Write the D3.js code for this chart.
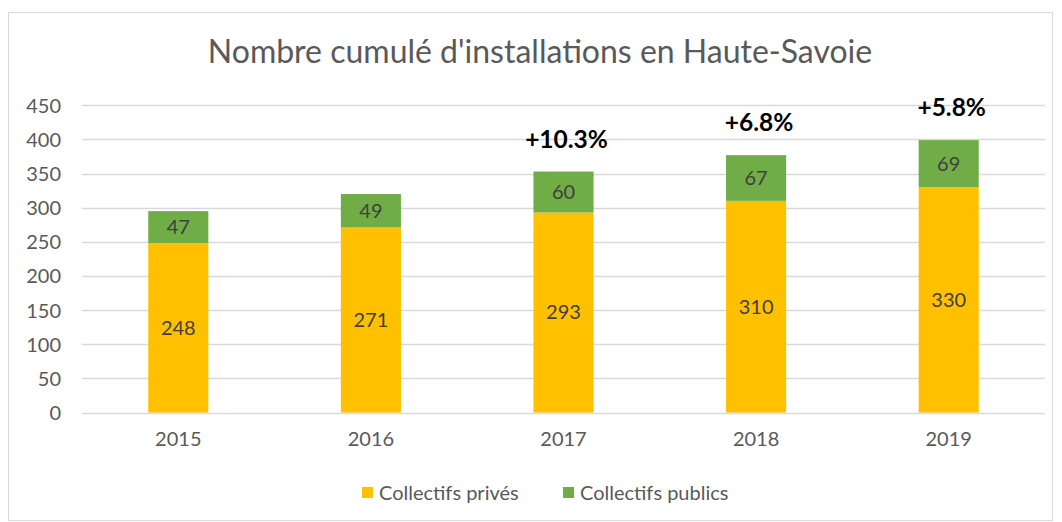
<!DOCTYPE html>
<html><head><meta charset="utf-8">
<script src="https://cdn.jsdelivr.net/npm/d3@7"></script>
<style>body{margin:0;background:#fff}svg{display:block}text{font-family:Lato,"Open Sans",sans-serif}</style>
</head><body><svg id="c" width="1062" height="522"></svg>
<script>
const years = ["2015","2016","2017","2018","2019"];
const prives = [248,271,293,310,330];
const publics = [47,49,60,67,69];
const growth = ["","","+10.3%","+6.8%","+5.8%"];
const yTicks = [0,50,100,150,200,250,300,350,400,450];
const seriesNames = ["Collectifs privés","Collectifs publics"];
const colors = ["#FFC000","#70AD47"];

const svg = d3.select("#c");
svg.append("rect").attr("x",8.5).attr("y",12.5).attr("width",1044).attr("height",508).attr("fill","#fff").attr("stroke","#d9d9d9");

const pL=82,pR=1045,pT=105.3,pB=412.5;
const x = d3.scaleBand().domain(years).range([pL,pR]).paddingInner(0.688).paddingOuter(0.344);
const y = d3.scaleLinear().domain([0,450]).range([pB,pT]);

svg.append("text").attr("x",540).attr("y",63).attr("text-anchor","middle").attr("font-size",32).attr("fill","#595959").text("Nombre cumulé d'installations en Haute-Savoie");

const g = svg.append("g");
g.selectAll("line.grid").data(yTicks).join("line").attr("x1",pL).attr("x2",pR)
 .attr("y1",d=>Math.round(y(d))+0.5).attr("y2",d=>Math.round(y(d))+0.5).attr("stroke","#d9d9d9").attr("stroke-width",1.3);

const yAxis = svg.append("g").attr("transform",`translate(${pL},0)`).call(d3.axisLeft(y).tickValues(yTicks).tickSize(0).tickPadding(21));
yAxis.select(".domain").remove();
yAxis.selectAll("text").attr("font-size",20).attr("fill","#595959").attr("font-family","Lato,'Open Sans',sans-serif").attr("dy","0.35em");

const xAxis = svg.append("g").attr("transform",`translate(0,${pB})`).call(d3.axisBottom(x).tickSize(0).tickPadding(19));
xAxis.select(".domain").remove();
xAxis.selectAll("text").attr("font-size",20).attr("fill","#595959").attr("font-family","Lato,'Open Sans',sans-serif");

const data = years.map((yr,i)=>({year:yr, prives:prives[i], publics:publics[i], growth:growth[i]}));
const stack = d3.stack().keys(["prives","publics"])(data);
stack.forEach((s,si)=>{
  g.selectAll(null).data(s).join("rect")
   .attr("x",d=>x(d.data.year)).attr("width",x.bandwidth())
   .attr("y",d=>y(d[1])).attr("height",d=>y(d[0])-y(d[1])).attr("fill",colors[si]);
  g.selectAll(null).data(s).join("text")
   .attr("x",d=>x(d.data.year)+x.bandwidth()/2).attr("y",d=>(y(d[0])+y(d[1]))/2)
   .attr("dy","0.35em").attr("text-anchor","middle").attr("font-size",20).attr("fill","#404040")
   .text(d=>d[1]-d[0]);
});
g.selectAll("text.growth").data(data.filter(d=>d.growth)).join("text")
 .attr("x",d=>x(d.year)+x.bandwidth()/2+3).attr("y",d=>y(d.prives+d.publics)-24)
 .attr("text-anchor","middle").attr("font-size",24.5).attr("font-weight","bold").attr("fill","#000").text(d=>d.growth);

const leg = svg.append("g");
const legX=[362,563];
seriesNames.forEach((n,i)=>{
  leg.append("rect").attr("x",legX[i]).attr("y",487).attr("width",11).attr("height",11).attr("fill",colors[i]);
  leg.append("text").attr("x",legX[i]+17).attr("y",493).attr("dy","0.35em").attr("font-size",20).attr("fill","#595959").text(n);
});
</script></body></html>
